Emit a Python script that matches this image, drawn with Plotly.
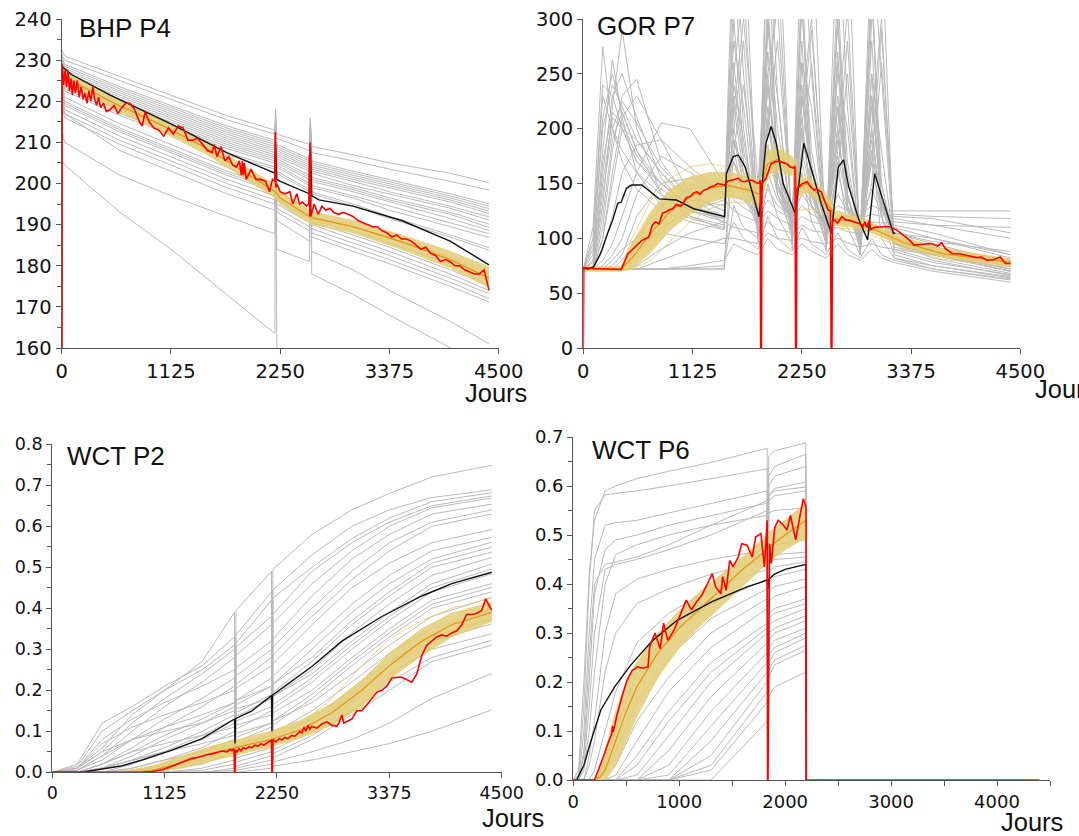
import plotly.graph_objects as go

# ---------------- BHP P4 ----------------
BHP_X = [0, 30, 600, 1125, 1700, 2195, 2202, 2215, 2552, 2560, 2575, 3000, 3375, 4000, 4400]
BHP_GRAY = [
    [232.5, 231, 226, 221.5, 216.5, 213, 218, 212, 209.5, 216, 209, 207, 205, 202.5, 200.2],
    [231.5, 230, 225, 220.5, 215.5, 212, 217, 211, 208, 215, 207.5, 205.5, 203.5, 200.5, 198.4],
    [231, 229, 223.5, 219, 214, 210.5, 216, 209.5, 206, 214, 205.5, 203, 201, 197.5, 195.1],
    [230.5, 228.5, 223, 218.5, 213.5, 210, 215, 209, 205.5, 213, 205, 202.5, 200.5, 197, 194.5],
    [230, 228, 222.5, 218, 213, 209.5, 216, 208.5, 205, 215, 204.5, 202, 200, 196.5, 193.9],
    [230, 227.5, 222, 217.5, 212.5, 209, 214, 208, 204.5, 212, 204, 201.5, 199.5, 196, 193.3],
    [229.5, 227, 221.5, 217, 212, 208.5, 215, 207.5, 204, 214, 203.5, 201, 199, 195.5, 192.7],
    [229, 226.5, 221, 216.5, 211.5, 208, 213, 207, 203.5, 211, 203, 200.5, 198, 194.5, 191.9],
    [229, 226, 220.5, 216, 211, 207.5, 214, 206.5, 203, 213, 202.5, 199.5, 197.5, 194, 191.1],
    [228.5, 225.5, 220, 215.5, 210.5, 207, 212, 206, 202, 210, 201.5, 199, 196.5, 193, 190.1],
    [228, 225, 219.5, 215, 210, 206.5, 213, 205.5, 201.5, 212, 201, 198.5, 196, 192.5, 189.3],
    [228, 224.5, 219, 214.5, 209.5, 206, 211, 205, 201, 209, 200.5, 198, 195.5, 191.5, 188.6],
    [227.5, 224, 218.5, 214, 209, 205.5, 212, 204.5, 200, 211, 199.5, 197, 194.5, 190.5, 187.8],
    [227, 223.5, 218, 213.5, 208.5, 205, 210, 204, 199.5, 208, 199, 196.5, 193.5, 189.5, 186.9],
    [226.5, 223, 217, 212.5, 207.5, 204, 211, 203, 198.5, 210, 198, 195, 192, 187.5, 184.4],
    [226, 222.5, 216.5, 212, 207, 203.5, 209, 202.5, 198, 207, 197.5, 194.5, 191.5, 187, 183.8],
    [225, 221, 214.5, 209.5, 204, 200, 210, 198, 193.5, 209, 192, 189.5, 187, 182, 178.1],
    [224, 220, 213.5, 208.5, 203, 199, 208, 197, 192.5, 207, 191, 188.5, 185.5, 180.5, 176.5],
    [223.5, 219.5, 213, 208, 202.5, 198.5, 209, 196.5, 192, 208, 190.5, 187.5, 184.5, 179, 175.3],
    [223, 219, 212.5, 207.5, 202, 198, 207, 196, 191.5, 206, 190, 186.5, 183.5, 178, 174],
    [222, 218, 211.5, 206.5, 201, 197, 208, 195, 190.5, 207, 189, 185.5, 182.5, 177, 173.2],
    [221, 217, 210.5, 205.5, 200, 196, 206, 194, 189.5, 205, 188, 184.5, 181.5, 176, 172],
    [220, 216, 209.5, 204.5, 199, 195, 207, 193, 188.5, 206, 187, 183.5, 180.5, 175, 171.2],
    [219, 217, 208, 203, 197.5, 193.5, 212, 191, 186, 210, 183.5, 179, 174, 166.5, 161],
    [213, 210, 202, 197, 192, 187.8, 214, 184, 181, 212, 178, 173, 168, 160, 155],
    [206, 204.5, 193, 184, 173, 163.5, 216, 160, 150, 150, 149, 140, 130, 115, 100],
]
BHP_BX = [0, 100, 500, 1000, 1500, 2000, 2200, 2250, 2550, 2600, 3000, 3500, 4000, 4400]
BHP_MEAN = [227, 225, 220, 214.5, 208.5, 201, 198, 196.5, 192, 191.5, 189.5, 185.8, 181.5, 177]
BHP_UP = [228.5, 226.5, 221.5, 216, 210, 202.5, 199.5, 198, 193.5, 193, 191, 187.5, 183.5, 179.7]
BHP_LO = [225.2, 223.5, 218.5, 213, 207, 199.5, 196.5, 195, 190.5, 190, 188, 184, 179.5, 174.8]
BHP_REF_X = [0, 100, 500, 1125, 1700, 2000, 2195, 2202, 2215, 2250, 2552, 2560, 2575, 2650, 3000, 3500, 4000, 4400]
BHP_REF_Y = [228.5, 226.5, 221.5, 214.5, 207.5, 204.5, 202.5, 210, 201, 200.5, 197.5, 209.5, 197, 196, 194.5, 191, 186, 180.2]
BHP_OBS_X = [0, 5, 20, 35, 50, 65, 80, 95, 110, 125, 140, 160, 180, 200, 220, 240, 260, 280, 300, 320,
             340, 360, 380, 400, 430, 460, 500, 540, 580, 620, 660, 700, 750, 800, 830, 860, 900, 950, 1000, 1050,
             1100, 1150, 1200, 1250, 1300, 1350, 1400, 1450, 1500, 1550, 1570, 1600, 1640, 1680, 1720, 1760, 1800, 1830, 1850, 1860,
             1870, 1880, 1900, 1950, 2000, 2050, 2100, 2140, 2170, 2195, 2200, 2205, 2215, 2250, 2300, 2350, 2380, 2420, 2450, 2480,
             2520, 2545, 2550, 2555, 2560, 2565, 2600, 2640, 2680, 2720, 2760, 2800, 2850, 2900, 2950, 3000, 3050, 3100, 3150, 3200,
             3250, 3300, 3350, 3400, 3450, 3500, 3550, 3600, 3650, 3700, 3750, 3800, 3850, 3900, 3950, 4000, 4050, 4100, 4150, 4200,
             4250, 4300, 4350, 4400]
BHP_OBS_Y = [0, 229, 224, 227.5, 223.5, 227.5, 222.5, 225.5, 221.5, 225, 222, 225, 221, 223.5, 220.5, 222, 219.5, 222.5, 220, 223.5,
             220.5, 219, 221, 218.5, 219.5, 217.5, 218, 219, 217, 218.5, 219.5, 219.5, 218, 215, 214, 217.5, 215, 213.5, 213, 211.5,
             213.5, 212, 214, 213.5, 210.5, 210.5, 211, 209.5, 208, 207.5, 209.5, 206.5, 209, 205.5, 206.5, 204.5, 204, 205.5, 202, 205.5,
             202, 205, 201, 203.5, 201, 201, 200.5, 198, 201, 200.5, 212.5, 199, 200, 198, 197.5, 198, 195, 197.5, 195, 195.5,
             194.5, 195, 207, 192, 210, 192, 195, 192.5, 194.5, 193.5, 194, 193, 192.5, 193, 192.5, 192, 191, 190.5, 190, 189.5,
             189.5, 188.5, 188, 187, 187.5, 186.5, 186.5, 186, 185, 184, 184.5, 183, 182.5, 181, 181.5, 181, 180, 180, 179, 178.5,
             178, 178, 179, 174]

# ---------------- GOR P7 ----------------
GOR_X = [0, 100, 200, 300, 400, 550, 800, 1100, 1450, 1550, 1650, 1800, 1900, 2000, 2150, 2250, 2350, 2500, 2620, 2720,
         2850, 2970, 3070, 3200, 3600, 4400]
GOR_GRAY = [
    [72, 110, 275, 200, 170, 145, 125, 115, 108, 360, 200, 100, 380, 160, 105, 340, 150, 95, 330, 140, 90, 330, 130, 92, 85, 70],
    [72, 80, 180, 263, 210, 160, 130, 118, 110, 250, 330, 115, 200, 350, 105, 220, 300, 100, 200, 310, 95, 200, 300, 90, 80, 66],
    [72, 75, 130, 220, 290, 200, 140, 120, 112, 300, 180, 120, 320, 150, 115, 320, 140, 105, 300, 130, 100, 340, 120, 95, 82, 68],
    [72, 78, 160, 230, 250, 210, 155, 125, 118, 200, 280, 110, 250, 310, 110, 200, 290, 110, 180, 280, 100, 170, 290, 100, 88, 72],
    [72, 72, 110, 180, 230, 245, 170, 135, 120, 260, 170, 125, 300, 170, 110, 280, 150, 105, 270, 140, 95, 280, 130, 100, 90, 75],
    [72, 72, 100, 160, 210, 230, 190, 140, 125, 180, 240, 120, 200, 280, 115, 180, 260, 100, 160, 250, 100, 150, 260, 105, 95, 78],
    [72, 90, 200, 240, 220, 190, 160, 135, 130, 220, 160, 130, 250, 160, 120, 240, 150, 115, 230, 140, 105, 230, 130, 110, 100, 82],
    [72, 72, 90, 120, 160, 185, 190, 165, 140, 190, 150, 125, 210, 150, 120, 200, 140, 110, 200, 130, 110, 200, 125, 112, 105, 85],
    [72, 72, 80, 95, 120, 160, 205, 200, 150, 170, 140, 120, 180, 140, 115, 170, 130, 110, 160, 125, 115, 170, 122, 118, 112, 100],
    [72, 72, 75, 85, 100, 140, 175, 160, 140, 150, 135, 120, 160, 135, 120, 150, 130, 115, 140, 125, 115, 145, 122, 120, 118, 105],
    [72, 72, 72, 75, 85, 120, 150, 155, 145, 140, 135, 125, 145, 130, 120, 140, 128, 118, 130, 125, 120, 130, 126, 125, 125, 125],
    [72, 72, 72, 72, 80, 100, 130, 145, 150, 135, 128, 120, 135, 125, 118, 130, 122, 115, 125, 120, 118, 122, 120, 122, 120, 118],
    [72, 72, 72, 72, 72, 85, 110, 125, 135, 125, 120, 115, 125, 118, 112, 120, 115, 112, 118, 114, 112, 115, 114, 115, 112, 110],
    [72, 72, 72, 72, 72, 75, 90, 105, 115, 110, 108, 105, 115, 108, 105, 112, 107, 105, 110, 106, 105, 108, 106, 105, 100, 85],
    [72, 72, 72, 72, 72, 72, 80, 90, 100, 100, 98, 95, 105, 100, 98, 100, 97, 95, 100, 96, 92, 95, 92, 90, 85, 72],
    [72, 72, 72, 72, 72, 72, 72, 72, 72, 217, 300, 150, 300, 200, 120, 310, 180, 110, 300, 170, 100, 320, 150, 95, 85, 70],
    [72, 72, 72, 72, 72, 72, 72, 72, 72, 180, 140, 110, 240, 150, 100, 260, 140, 95, 260, 130, 90, 250, 120, 85, 75, 64],
    [72, 72, 72, 72, 72, 72, 72, 73, 75, 130, 110, 100, 150, 120, 95, 160, 115, 90, 170, 110, 85, 180, 100, 82, 72, 62],
    [72, 72, 72, 72, 72, 72, 72, 75, 80, 95, 90, 85, 100, 90, 85, 95, 88, 82, 95, 85, 80, 90, 82, 78, 70, 60],
    [72, 72, 72, 80, 90, 100, 105, 100, 95, 115, 100, 90, 120, 100, 88, 110, 95, 85, 105, 90, 82, 100, 85, 80, 72, 63],
    [72, 72, 120, 190, 215, 180, 140, 120, 108, 320, 400, 95, 300, 420, 90, 330, 400, 88, 300, 400, 85, 300, 380, 82, 75, 65],
    [72, 72, 150, 210, 200, 190, 160, 130, 115, 400, 250, 105, 400, 230, 100, 400, 250, 92, 400, 220, 88, 380, 250, 88, 78, 67],
    [72, 72, 100, 150, 200, 170, 150, 130, 120, 280, 220, 110, 290, 230, 105, 260, 220, 100, 250, 200, 95, 250, 180, 95, 85, 70],
    [72, 95, 230, 200, 180, 160, 140, 125, 118, 240, 190, 115, 270, 180, 110, 230, 170, 105, 220, 160, 100, 220, 150, 100, 92, 80],
    [72, 100, 240, 230, 200, 170, 145, 125, 115, 200, 150, 110, 220, 140, 105, 210, 130, 100, 200, 125, 95, 200, 120, 95, 88, 74],
    [72, 85, 210, 250, 215, 180, 150, 128, 118, 230, 170, 112, 240, 160, 108, 230, 150, 102, 220, 140, 98, 230, 135, 96, 86, 72],
    [72, 72, 140, 200, 225, 205, 165, 138, 125, 170, 150, 120, 185, 145, 115, 180, 140, 110, 175, 135, 108, 180, 130, 105, 97, 88],
    [72, 78, 170, 215, 205, 175, 150, 130, 120, 190, 160, 118, 205, 150, 112, 195, 145, 106, 190, 140, 102, 190, 135, 100, 92, 80],
]
GOR_BX = [0, 390, 500, 700, 900, 1100, 1300, 1500, 1700, 1825, 1840, 1900, 2000, 2150, 2190, 2200, 2300, 2450, 2560, 2570, 2800, 3000, 3300, 3700, 4400]
GOR_MEAN = [72, 72, 82, 105, 125, 138, 146, 148, 144, 140, 150, 168, 172, 166, 164, 145, 150, 138, 126, 118, 115, 108, 96, 86, 78]
GOR_UP = [74, 74, 95, 125, 145, 156, 160, 160, 156, 152, 158, 180, 182, 174, 170, 152, 156, 145, 132, 124, 120, 112, 100, 90, 80]
GOR_LO = [70, 70, 72, 88, 108, 122, 133, 138, 134, 130, 142, 158, 162, 158, 157, 138, 142, 132, 120, 112, 110, 104, 93, 83, 75]
GOR_YEL = [
    [72, 72, 100, 135, 155, 165, 168, 165, 158, 152, 160, 185, 185, 175, 172, 155, 158, 147, 134, 125, 122, 113, 101, 91, 81],
    [72, 72, 72, 80, 98, 115, 127, 133, 132, 128, 140, 155, 160, 157, 156, 125, 127, 125, 118, 110, 108, 102, 91, 81, 74],
    [72, 72, 88, 118, 138, 148, 152, 152, 148, 145, 152, 172, 176, 170, 167, 148, 152, 140, 128, 121, 117, 110, 98, 88, 79],
    [72, 72, 78, 95, 115, 130, 140, 144, 142, 138, 146, 162, 168, 162, 160, 140, 145, 134, 123, 115, 112, 106, 94, 84, 76],
]
GOR_REF_X = [0, 50, 106, 177, 248, 302, 355, 390, 444, 497, 603, 781, 958, 1136, 1455, 1473, 1544, 1597, 1668, 1810,
             1881, 1934, 1987, 2058, 2183, 2271, 2342, 2449, 2555, 2626, 2680, 2733, 2839, 2928, 3000, 3088, 3194, 3213]
GOR_REF_Y = [73, 72, 74, 86, 104, 116.6, 132, 133, 145.6, 148.6, 148.6, 136, 135, 127, 119.7, 159, 174.5, 176, 165, 119.7,
             186.7, 202, 186.7, 150, 122.7, 186.7, 165, 132, 104.5, 165, 171.5, 147, 116.6, 98.4, 159, 135, 104.5, 105]
GOR_OBS_X = [0, 5, 100, 200, 300, 390, 461, 530, 603, 674, 710, 745, 780, 816, 850, 887, 920, 960, 1000, 1029,
             1060, 1100, 1130, 1171, 1200, 1242, 1280, 1313, 1350, 1384, 1420, 1455, 1490, 1526, 1560, 1597, 1630, 1668, 1700, 1739,
             1780, 1810, 1822, 1826, 1834, 1840, 1881, 1934, 1980, 2023, 2060, 2094, 2130, 2165, 2180, 2186, 2194, 2200, 2218, 2260,
             2307, 2340, 2378, 2400, 2449, 2480, 2520, 2545, 2552, 2560, 2566, 2591, 2620, 2662, 2700, 2733, 2780, 2839, 2880, 2900,
             2920, 2946, 2960, 3000, 3088, 3150, 3230, 3300, 3350, 3407, 3500, 3585, 3650, 3690, 3727, 3798, 3870, 3940, 4000, 4050,
             4100, 4152, 4220, 4294, 4347, 4400]
GOR_OBS_Y = [0, 73.5, 72.5, 72, 71.8, 71.6, 86, 92, 98, 101, 112, 115, 113, 123, 124, 126, 127, 131, 129, 132,
             137, 138, 141, 142.5, 140, 144, 145, 147, 148, 150, 149, 148.6, 152, 153, 153.5, 154.7, 152, 151.7, 153, 153,
             151, 150, 153, 0, 0, 150, 154.7, 168, 170, 170, 169, 168, 165, 164, 166, 0, 0, 145, 147, 150,
             151.7, 147, 144, 145, 142.5, 135, 126, 125, 0, 0, 116, 116.6, 114, 119.7, 117, 116.6, 115, 113.6, 111, 115,
             110, 116.6, 108, 110, 110.6, 110.6, 107.5, 103, 99, 93.8, 94.5, 95.3, 93, 96, 90.8, 86.2, 86, 84.7, 83, 82.5,
             83, 80, 80.5, 83, 77, 77]

# ---------------- WCT P2 ----------------
P2_X = [0, 250, 500, 800, 1125, 1500, 1825, 1830, 1840, 2195, 2200, 2210, 2600, 3000, 3375, 3800, 4400]
P2_GRAY = [
    [0, 0.01, 0.06, 0.14, 0.2, 0.27, 0.39, 0.1, 0.395, 0.49, 0.12, 0.495, 0.58, 0.64, 0.68, 0.72, 0.749],
    [0, 0.02, 0.12, 0.16, 0.21, 0.26, 0.33, 0.09, 0.335, 0.44, 0.1, 0.445, 0.53, 0.6, 0.64, 0.67, 0.689],
    [0, 0.015, 0.1, 0.15, 0.2, 0.25, 0.31, 0.09, 0.315, 0.42, 0.1, 0.425, 0.5, 0.57, 0.62, 0.66, 0.682],
    [0, 0.01, 0.05, 0.12, 0.18, 0.24, 0.3, 0.08, 0.305, 0.38, 0.09, 0.385, 0.49, 0.56, 0.61, 0.65, 0.674],
    [0, 0.005, 0.04, 0.1, 0.16, 0.22, 0.28, 0.08, 0.285, 0.36, 0.08, 0.365, 0.46, 0.54, 0.6, 0.645, 0.669],
    [0, 0.01, 0.08, 0.13, 0.17, 0.21, 0.25, 0.08, 0.255, 0.32, 0.08, 0.325, 0.43, 0.52, 0.58, 0.63, 0.654],
    [0, 0.005, 0.03, 0.08, 0.13, 0.18, 0.23, 0.07, 0.235, 0.3, 0.07, 0.305, 0.4, 0.49, 0.56, 0.61, 0.64],
    [0, 0.0, 0.02, 0.06, 0.11, 0.16, 0.21, 0.07, 0.215, 0.28, 0.07, 0.285, 0.38, 0.47, 0.54, 0.6, 0.63],
    [0, 0.01, 0.07, 0.11, 0.14, 0.17, 0.2, 0.07, 0.205, 0.26, 0.06, 0.265, 0.36, 0.45, 0.51, 0.56, 0.592],
    [0, 0.0, 0.02, 0.05, 0.09, 0.13, 0.17, 0.06, 0.175, 0.23, 0.06, 0.235, 0.32, 0.41, 0.48, 0.54, 0.573],
    [0, 0.0, 0.01, 0.04, 0.08, 0.12, 0.16, 0.06, 0.165, 0.21, 0.05, 0.215, 0.3, 0.39, 0.46, 0.52, 0.561],
    [0, 0.005, 0.04, 0.08, 0.11, 0.14, 0.17, 0.06, 0.175, 0.21, 0.05, 0.215, 0.28, 0.37, 0.44, 0.51, 0.549],
    [0, 0.0, 0.01, 0.03, 0.06, 0.1, 0.14, 0.05, 0.145, 0.19, 0.05, 0.195, 0.27, 0.36, 0.43, 0.5, 0.537],
    [0, 0.0, 0.0, 0.02, 0.05, 0.09, 0.13, 0.05, 0.135, 0.18, 0.05, 0.185, 0.25, 0.34, 0.41, 0.48, 0.524],
    [0, 0.01, 0.05, 0.08, 0.1, 0.12, 0.15, 0.05, 0.155, 0.18, 0.04, 0.185, 0.24, 0.32, 0.39, 0.46, 0.508],
    [0, 0.0, 0.01, 0.03, 0.05, 0.08, 0.12, 0.04, 0.125, 0.16, 0.04, 0.165, 0.23, 0.31, 0.38, 0.45, 0.496],
    [0, 0.0, 0.0, 0.01, 0.03, 0.06, 0.1, 0.04, 0.105, 0.15, 0.04, 0.155, 0.22, 0.3, 0.37, 0.44, 0.484],
    [0, 0.0, 0.02, 0.05, 0.07, 0.09, 0.11, 0.04, 0.115, 0.14, 0.04, 0.145, 0.2, 0.28, 0.35, 0.42, 0.46],
    [0, 0.0, 0.0, 0.01, 0.03, 0.05, 0.08, 0.03, 0.085, 0.12, 0.03, 0.125, 0.19, 0.27, 0.34, 0.41, 0.451],
    [0, 0.0, 0.0, 0.005, 0.02, 0.04, 0.07, 0.03, 0.075, 0.11, 0.03, 0.115, 0.18, 0.26, 0.33, 0.4, 0.44],
    [0, 0.0, 0.01, 0.03, 0.05, 0.07, 0.09, 0.03, 0.095, 0.12, 0.03, 0.125, 0.17, 0.24, 0.31, 0.38, 0.427],
    [0, 0.0, 0.0, 0.0, 0.01, 0.03, 0.06, 0.02, 0.065, 0.09, 0.02, 0.095, 0.15, 0.22, 0.29, 0.35, 0.395],
    [0, 0.0, 0.0, 0.0, 0.005, 0.02, 0.05, 0.02, 0.055, 0.08, 0.02, 0.085, 0.13, 0.2, 0.27, 0.33, 0.374],
    [0, 0.0, 0.0, 0.0, 0.0, 0.01, 0.03, 0.01, 0.035, 0.06, 0.01, 0.065, 0.12, 0.19, 0.26, 0.32, 0.362],
    [0, 0.0, 0.0, 0.0, 0.0, 0.005, 0.02, 0.01, 0.025, 0.05, 0.01, 0.055, 0.1, 0.17, 0.24, 0.3, 0.338],
    [0, 0.0, 0.0, 0.0, 0.0, 0.0, 0.01, 0.0, 0.015, 0.04, 0.01, 0.045, 0.09, 0.15, 0.22, 0.28, 0.322],
    [0, 0.0, 0.0, 0.0, 0.0, 0.0, 0.005, 0.0, 0.01, 0.03, 0.0, 0.035, 0.08, 0.14, 0.2, 0.27, 0.31],
    [0, 0.0, 0.0, 0.0, 0.0, 0.0, 0.0, 0.0, 0.005, 0.02, 0.0, 0.025, 0.05, 0.08, 0.12, 0.18, 0.241],
    [0, 0.0, 0.0, 0.0, 0.0, 0.0, 0.0, 0.0, 0.0, 0.01, 0.0, 0.015, 0.03, 0.05, 0.07, 0.1, 0.152],
]
P2_BX = [0, 700, 1000, 1300, 1600, 1825, 1840, 2000, 2195, 2210, 2500, 2800, 3100, 3400, 3700, 4000, 4400]
P2_MEAN = [0, 0, 0.004, 0.024, 0.046, 0.06, 0.06, 0.07, 0.08, 0.082, 0.105, 0.145, 0.2, 0.265, 0.32, 0.36, 0.39]
P2_UP = [0, 0.002, 0.015, 0.04, 0.064, 0.078, 0.078, 0.088, 0.1, 0.102, 0.128, 0.168, 0.225, 0.295, 0.35, 0.388, 0.415]
P2_LO = [0, 0, 0, 0.01, 0.028, 0.042, 0.042, 0.052, 0.062, 0.064, 0.085, 0.115, 0.16, 0.232, 0.285, 0.33, 0.368]
P2_YEL = [
    [0, 0, 0.01, 0.03, 0.055, 0.07, 0.07, 0.08, 0.09, 0.092, 0.12, 0.18, 0.26, 0.33, 0.37, 0.4, 0.425],
    [0, 0, 0.0, 0.015, 0.035, 0.05, 0.05, 0.06, 0.07, 0.072, 0.09, 0.12, 0.17, 0.24, 0.3, 0.345, 0.38],
]
P2_REF_X = [0, 300, 500, 700, 900, 1200, 1500, 1825, 1830, 1835, 2000, 2195, 2200, 2205, 2600, 2900, 3300, 3700, 4000, 4400]
P2_REF_Y = [0, 0.0, 0.008, 0.016, 0.03, 0.054, 0.082, 0.13, 0.07, 0.131, 0.15, 0.187, 0.1, 0.188, 0.258, 0.32, 0.38, 0.43, 0.46, 0.488]
P2_OBS_X = [0, 900, 1000, 1100, 1200, 1250, 1300, 1350, 1400, 1450, 1500, 1550, 1600, 1650, 1700, 1750, 1780, 1800, 1820, 1825,
            1830, 1835, 1850, 1870, 1890, 1910, 1940, 1970, 2000, 2030, 2060, 2090, 2120, 2150, 2180, 2195, 2200, 2205, 2210, 2240,
            2270, 2300, 2330, 2360, 2400, 2430, 2460, 2480, 2500, 2520, 2540, 2560, 2580, 2600, 2650, 2700, 2750, 2800, 2850, 2870,
            2900, 2920, 2960, 3000, 3050, 3100, 3150, 3200, 3250, 3300, 3350, 3400, 3450, 3500, 3550, 3600, 3650, 3700, 3750, 3800,
            3850, 3900, 3950, 4000, 4050, 4100, 4150, 4200, 4250, 4300, 4340, 4400]
P2_OBS_Y = [0, 0, 0.002, 0.006, 0.015, 0.02, 0.025, 0.03, 0.034, 0.036, 0.04, 0.043, 0.045, 0.048, 0.052, 0.05, 0.056, 0.053, 0.057, 0,
            0, 0.055, 0.05, 0.058, 0.052, 0.06, 0.057, 0.062, 0.06, 0.066, 0.064, 0.07, 0.066, 0.072, 0.075, 0.078, 0, 0, 0.08, 0.074,
            0.082, 0.079, 0.085, 0.082, 0.09, 0.088, 0.095, 0.1, 0.096, 0.11, 0.1, 0.115, 0.105, 0.112, 0.108, 0.118, 0.123, 0.115, 0.112, 0.12,
            0.14, 0.12, 0.125, 0.13, 0.15, 0.15, 0.165, 0.18, 0.195, 0.2, 0.21, 0.23, 0.232, 0.232, 0.225, 0.22, 0.24, 0.285, 0.31, 0.32,
            0.33, 0.335, 0.332, 0.34, 0.345, 0.36, 0.385, 0.385, 0.388, 0.395, 0.423, 0.395]

# ---------------- WCT P6 ----------------
P6_X = [0, 50, 100, 150, 200, 300, 400, 600, 900, 1300, 1830, 1836, 1845, 1900, 2195, 2200]
P6_GRAY = [
    [0, 0.02, 0.2, 0.42, 0.53, 0.59, 0.6, 0.615, 0.63, 0.648, 0.677, 0.2, 0.66, 0.672, 0.688, 0],
    [0, 0.01, 0.15, 0.4, 0.55, 0.582, 0.585, 0.59, 0.6, 0.615, 0.635, 0.2, 0.62, 0.64, 0.665, 0],
    [0, 0.0, 0.1, 0.3, 0.45, 0.52, 0.525, 0.53, 0.545, 0.565, 0.59, 0.2, 0.6, 0.62, 0.64, 0],
    [0, 0.0, 0.05, 0.2, 0.38, 0.47, 0.49, 0.5, 0.52, 0.54, 0.565, 0.2, 0.58, 0.595, 0.608, 0],
    [0, 0.0, 0.06, 0.25, 0.4, 0.44, 0.445, 0.455, 0.48, 0.52, 0.57, 0.2, 0.58, 0.59, 0.598, 0],
    [0, 0.0, 0.03, 0.15, 0.3, 0.43, 0.44, 0.45, 0.47, 0.5, 0.55, 0.2, 0.57, 0.58, 0.59, 0],
    [0, 0.0, 0.02, 0.1, 0.22, 0.4, 0.46, 0.48, 0.5, 0.52, 0.54, 0.2, 0.545, 0.55, 0.555, 0],
    [0, 0.0, 0.0, 0.05, 0.12, 0.3, 0.38, 0.41, 0.43, 0.45, 0.47, 0.2, 0.475, 0.48, 0.49, 0],
    [0, 0.0, 0.0, 0.03, 0.08, 0.22, 0.3, 0.36, 0.39, 0.42, 0.45, 0.2, 0.455, 0.46, 0.465, 0],
    [0, 0.0, 0.0, 0.0, 0.02, 0.1, 0.18, 0.28, 0.34, 0.39, 0.43, 0.2, 0.44, 0.45, 0.455, 0],
    [0, 0.0, 0.0, 0.0, 0.0, 0.04, 0.1, 0.22, 0.3, 0.36, 0.41, 0.2, 0.425, 0.435, 0.445, 0],
    [0, 0.0, 0.0, 0.0, 0.0, 0.02, 0.06, 0.16, 0.25, 0.33, 0.39, 0.19, 0.405, 0.415, 0.43, 0],
    [0, 0.0, 0.0, 0.0, 0.0, 0.0, 0.03, 0.12, 0.21, 0.3, 0.37, 0.18, 0.385, 0.395, 0.41, 0],
    [0, 0.0, 0.0, 0.0, 0.0, 0.0, 0.01, 0.08, 0.18, 0.27, 0.35, 0.18, 0.365, 0.375, 0.395, 0],
    [0, 0.0, 0.0, 0.0, 0.0, 0.0, 0.0, 0.05, 0.14, 0.24, 0.32, 0.17, 0.34, 0.35, 0.37, 0],
    [0, 0.0, 0.0, 0.0, 0.0, 0.0, 0.0, 0.03, 0.12, 0.22, 0.31, 0.17, 0.33, 0.34, 0.36, 0],
    [0, 0.0, 0.0, 0.0, 0.0, 0.0, 0.0, 0.01, 0.09, 0.2, 0.3, 0.17, 0.315, 0.325, 0.35, 0],
    [0, 0.0, 0.0, 0.0, 0.0, 0.0, 0.0, 0.0, 0.06, 0.17, 0.28, 0.17, 0.3, 0.31, 0.335, 0],
    [0, 0.0, 0.0, 0.0, 0.0, 0.0, 0.0, 0.0, 0.03, 0.14, 0.26, 0.17, 0.285, 0.3, 0.325, 0],
    [0, 0.0, 0.0, 0.0, 0.0, 0.0, 0.0, 0.0, 0.01, 0.11, 0.24, 0.17, 0.27, 0.285, 0.31, 0],
    [0, 0.0, 0.0, 0.0, 0.0, 0.0, 0.0, 0.0, 0.0, 0.08, 0.22, 0.17, 0.255, 0.27, 0.3, 0],
    [0, 0.0, 0.0, 0.0, 0.0, 0.0, 0.0, 0.0, 0.0, 0.05, 0.2, 0.17, 0.24, 0.26, 0.29, 0],
    [0, 0.0, 0.0, 0.0, 0.0, 0.0, 0.0, 0.0, 0.0, 0.03, 0.18, 0.17, 0.225, 0.245, 0.275, 0],
    [0, 0.0, 0.0, 0.0, 0.0, 0.0, 0.0, 0.0, 0.0, 0.02, 0.16, 0.16, 0.21, 0.235, 0.265, 0],
    [0, 0.0, 0.0, 0.0, 0.0, 0.0, 0.0, 0.0, 0.0, 0.0, 0.12, 0.12, 0.17, 0.19, 0.22, 0],
]
P6_BX = [0, 200, 250, 300, 400, 500, 600, 800, 1000, 1200, 1400, 1600, 1830, 1845, 2000, 2195]
P6_MEAN = [0, 0, 0.005, 0.02, 0.08, 0.14, 0.19, 0.26, 0.31, 0.35, 0.39, 0.43, 0.47, 0.475, 0.5, 0.53]
P6_UP = [0, 0, 0.02, 0.06, 0.14, 0.2, 0.24, 0.3, 0.345, 0.385, 0.42, 0.455, 0.5, 0.505, 0.53, 0.565]
P6_LO = [0, 0, 0, 0.0, 0.03, 0.08, 0.13, 0.21, 0.27, 0.315, 0.355, 0.395, 0.44, 0.445, 0.47, 0.495]
P6_REF_X = [0, 30, 100, 160, 260, 390, 540, 750, 980, 1310, 1640, 1830, 1836, 1845, 1900, 2000, 2195, 2200]
P6_REF_Y = [0, 0, 0.03, 0.075, 0.143, 0.19, 0.234, 0.285, 0.326, 0.364, 0.394, 0.408, 0.39, 0.41, 0.42, 0.43, 0.44, 0]
P6_OBS_X = [0, 200, 213, 262, 295, 328, 360, 370, 377, 410, 459, 508, 557, 607, 656, 705, 721, 771, 820, 852,
            892, 951, 1016, 1066, 1115, 1164, 1213, 1262, 1312, 1344, 1394, 1410, 1443, 1476, 1508, 1557, 1590, 1640, 1689, 1721,
            1771, 1804, 1830, 1834, 1838, 1853, 1869, 1902, 1935, 1984, 2017, 2050, 2099, 2138, 2171, 2197, 2200, 4400]
P6_OBS_Y = [0, 0, 0.007, 0.034, 0.054, 0.075, 0.092, 0.11, 0.098, 0.13, 0.17, 0.204, 0.224, 0.231, 0.228, 0.231, 0.272, 0.3, 0.268, 0.32,
            0.285, 0.306, 0.34, 0.367, 0.347, 0.364, 0.377, 0.4, 0.421, 0.394, 0.38, 0.415, 0.387, 0.448, 0.435, 0.455, 0.482, 0.479, 0.455, 0.496,
            0.503, 0.435, 0.53, 0, 0, 0.482, 0.442, 0.516, 0.53, 0.52, 0.51, 0.54, 0.49, 0.537, 0.574, 0.557, 0, 0]

TITLES = ["BHP P4", "GOR P7", "WCT P2", "WCT P6"]
XLABEL = "Jours"

# ---------------- styling ----------------
W, H = 1079, 836
GRAY = "#b9b9b9"
BAND = "rgba(226,204,118,0.85)"
YEL = "#e6cf6e"
ORANGE = "#e8940a"
BLACK = "#111111"
RED = "#ff0000"
AXC = "#555555"
FONT = "Liberation Sans, Arial, sans-serif"
TICKFONT = "DejaVu Sans, sans-serif"

fig = go.Figure()


def add_panel(k, gx, gray, bx, mean, up, lo, yel, rx, ry, ox, oy, obs_w=1.6):
    xa = "x" if k == 1 else f"x{k}"
    ya = "y" if k == 1 else f"y{k}"
    for row in gray:
        fig.add_trace(go.Scatter(x=gx, y=row, mode="lines", xaxis=xa, yaxis=ya,
                                 line=dict(color=GRAY, width=1), hoverinfo="skip", showlegend=False))
    fig.add_trace(go.Scatter(x=bx, y=lo, mode="lines", xaxis=xa, yaxis=ya,
                             line=dict(color="rgba(0,0,0,0)", width=0), hoverinfo="skip", showlegend=False))
    fig.add_trace(go.Scatter(x=bx, y=up, mode="lines", xaxis=xa, yaxis=ya, fill="tonexty",
                             fillcolor=BAND, line=dict(color=YEL, width=0.8), hoverinfo="skip", showlegend=False))
    fig.add_trace(go.Scatter(x=bx, y=lo, mode="lines", xaxis=xa, yaxis=ya,
                             line=dict(color=YEL, width=0.8), hoverinfo="skip", showlegend=False))
    for row in yel:
        fig.add_trace(go.Scatter(x=bx, y=row, mode="lines", xaxis=xa, yaxis=ya,
                                 line=dict(color=YEL, width=0.8), hoverinfo="skip", showlegend=False))
    fig.add_trace(go.Scatter(x=bx, y=mean, mode="lines", xaxis=xa, yaxis=ya,
                             line=dict(color=ORANGE, width=1.2), hoverinfo="skip", showlegend=False))
    fig.add_trace(go.Scatter(x=rx, y=ry, mode="lines", xaxis=xa, yaxis=ya,
                             line=dict(color=BLACK, width=1.4), hoverinfo="skip", showlegend=False))
    fig.add_trace(go.Scatter(x=ox, y=oy, mode="lines", xaxis=xa, yaxis=ya,
                             line=dict(color=RED, width=obs_w), hoverinfo="skip", showlegend=False))


add_panel(1, BHP_X, BHP_GRAY, BHP_BX, BHP_MEAN, BHP_UP, BHP_LO, [], BHP_REF_X, BHP_REF_Y, BHP_OBS_X, BHP_OBS_Y)
add_panel(2, GOR_X, GOR_GRAY, GOR_BX, GOR_MEAN, GOR_UP, GOR_LO, GOR_YEL, GOR_REF_X, GOR_REF_Y, GOR_OBS_X, GOR_OBS_Y)
add_panel(3, P2_X, P2_GRAY, P2_BX, P2_MEAN, P2_UP, P2_LO, P2_YEL, P2_REF_X, P2_REF_Y, P2_OBS_X, P2_OBS_Y)
add_panel(4, P6_X, P6_GRAY, P6_BX, P6_MEAN, P6_UP, P6_LO, [], P6_REF_X, P6_REF_Y, P6_OBS_X, P6_OBS_Y)


def dx(a, b):
    return [a / W, b / W]


def dy(top, bottom):
    return [1 - bottom / H, 1 - top / H]


def axis_common(size):
    return dict(showline=True, linecolor=AXC, linewidth=1.3, ticks="outside", ticklen=5,
                tickcolor=AXC, tickwidth=1, showgrid=False, zeroline=False, automargin=False,
                tickfont=dict(family=TICKFONT, size=size, color="#111111"))


layout = dict(template="none", width=W, height=H, autosize=False,
              margin=dict(l=0, r=0, t=0, b=0, pad=0, autoexpand=False), plot_bgcolor="white",
              paper_bgcolor="white", showlegend=False)

# panel 1
layout["xaxis"] = dict(axis_common(19.5), domain=dx(61.7, 498.7), anchor="y", range=[0, 4500],
                       tickvals=[0, 1125, 2250, 3375, 4500])
layout["yaxis"] = dict(axis_common(19.5), domain=dy(19, 348), anchor="x", range=[160, 240], dtick=10,
                       minor=dict(ticks="outside", dtick=5, ticklen=4, tickcolor=AXC))
# panel 2
layout["xaxis2"] = dict(axis_common(19.5), domain=dx(583.3, 1020.3), anchor="y2", range=[0, 4500],
                        tickvals=[0, 1125, 2250, 3375, 4500])
layout["yaxis2"] = dict(axis_common(19.5), domain=dy(19, 348), anchor="x2", range=[0, 300], dtick=50)
# panel 3
layout["xaxis3"] = dict(axis_common(17.5), domain=dx(52.2, 501.7), anchor="y3", range=[0, 4500],
                        tickvals=[0, 1125, 2250, 3375, 4500])
layout["yaxis3"] = dict(axis_common(17.5), domain=dy(444.3, 772.3), anchor="x3", range=[0, 0.8], dtick=0.1,
                        tickformat=".1f", minor=dict(ticks="outside", dtick=0.05, ticklen=4, tickcolor=AXC))
# panel 4
layout["xaxis4"] = dict(axis_common(18), domain=dx(573.3, 1050), anchor="y4", range=[0, 4500], dtick=1000,
                        minor=dict(ticks="outside", dtick=500, ticklen=5, tickcolor=AXC))
layout["yaxis4"] = dict(axis_common(18), domain=dy(437, 780), anchor="x4", range=[0, 0.7], dtick=0.1,
                        tickformat=".1f", minor=dict(ticks="outside", dtick=0.05, ticklen=4, tickcolor=AXC))

fig.update_layout(**layout)

title_pos = [(76.7, 28), (595, 26), (65, 456), (590, 450)]
for t, (px, py) in zip(TITLES, title_pos):
    fig.add_annotation(x=px / W, y=1 - py / H, xref="paper", yref="paper", text=t, showarrow=False,
                       xanchor="left", yanchor="middle", font=dict(family=FONT, size=26, color="#111111"))

jours_pos = [(463, 393), (1033, 389), (480, 818), (999, 822)]
for px, py in jours_pos:
    fig.add_annotation(x=px / W, y=1 - py / H, xref="paper", yref="paper", text=XLABEL, showarrow=False,
                       xanchor="left", yanchor="middle", font=dict(family=FONT, size=25.5, color="#111111"))

fig.write_html("out.html", config={"displayModeBar": False},
               post_script="document.body.style.margin='0';document.body.style.padding='0';")
